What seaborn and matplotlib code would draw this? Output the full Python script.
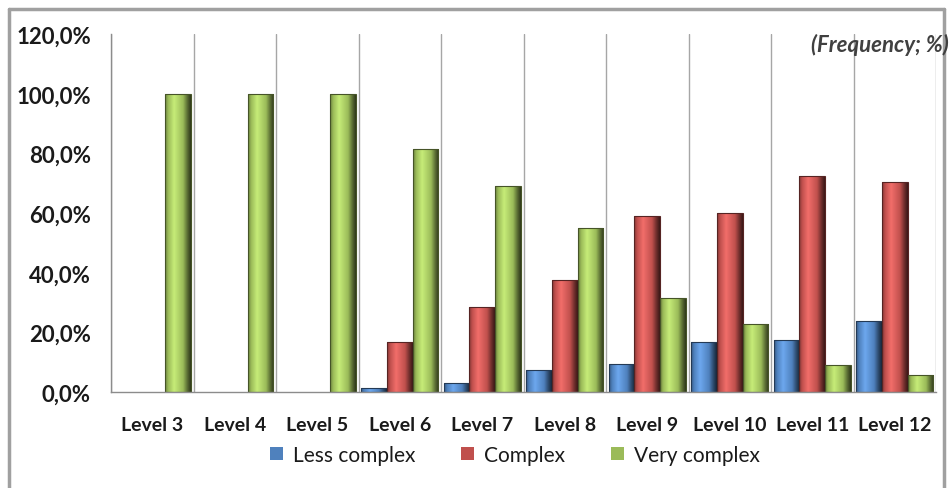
import numpy as np
import pandas as pd
import matplotlib
matplotlib.use("Agg")
import matplotlib.pyplot as plt
import seaborn as sns
from matplotlib.colors import LinearSegmentedColormap, to_rgb
from matplotlib.patches import Patch
from matplotlib.lines import Line2D

# ---------------- data ----------------
levels = ["Level 3", "Level 4", "Level 5", "Level 6", "Level 7",
          "Level 8", "Level 9", "Level 10", "Level 11", "Level 12"]
less_complex = [0.0, 0.0, 0.0, 1.5, 3.0, 7.5, 9.5, 17.0, 17.4, 24.0]
complex_vals = [0.0, 0.0, 0.0, 17.0, 28.5, 37.5, 59.0, 60.0, 72.4, 70.3]
very_complex = [100.0, 100.0, 100.0, 81.5, 69.0, 55.0, 31.5, 23.0, 9.3, 5.7]
series_names = ["Less complex", "Complex", "Very complex"]
y_ticks = [0, 20, 40, 60, 80, 100, 120]
y_tick_labels = ["0,0%", "20,0%", "40,0%", "60,0%", "80,0%", "100,0%", "120,0%"]
note_text = "(Frequency; %)"

colors = ["#4F81BD", "#C0504D", "#9BBB59"]

df = pd.DataFrame({
    "level": levels * 3,
    "value": less_complex + complex_vals + very_complex,
    "series": [series_names[0]] * len(levels) + [series_names[1]] * len(levels)
              + [series_names[2]] * len(levels),
})

sns.set_theme(style="white")
plt.rcParams["font.family"] = ["Lato", "DejaVu Sans"]

fig = plt.figure(figsize=(9.5, 4.89), dpi=100)
ax = fig.add_axes([111 / 950, 1 - 393.3 / 489, (936 - 111) / 950, (393.3 - 35) / 489])

sns.barplot(data=df, x="level", y="value", hue="series", order=levels,
            hue_order=series_names, palette=colors, width=0.93, gap=0,
            dodge=True, legend=False, ax=ax, saturation=1,
            edgecolor="none", linewidth=0)

# bevel-like shading on each bar (clipped gradient) plus dark outline
grad = np.linspace(0, 1, 80).reshape(1, -1)
for cont in ax.containers:
    for patch in cont.patches:
        h = patch.get_height()
        if not (h > 0):
            patch.set_visible(False)
            continue
        base = np.array(to_rgb(patch.get_facecolor()))
        light = np.clip(base * 1.18 + 0.06, 0, 1)
        cmap = LinearSegmentedColormap.from_list(
            "bev", [(0.0, base * 0.7), (0.12, base), (0.35, light),
                    (0.7, base), (0.86, base * 0.6), (1.0, base * 0.3)])
        x0 = patch.get_x(); w = patch.get_width()
        im = ax.imshow(grad, extent=[x0, x0 + w, 0, h], aspect="auto",
                       cmap=cmap, zorder=patch.get_zorder() + 0.1,
                       interpolation="bilinear")
        im.set_clip_path(patch)
        patch.set_edgecolor(tuple(base * 0.45))
        patch.set_linewidth(0.8)
        patch.set_zorder(patch.get_zorder() + 0.2)
        patch.set_facecolor("none")

ax.set_xlim(-0.5, len(levels) - 0.5)
ax.set_ylim(0, 120)
ax.set_aspect("auto")

# axes styling
for s in ["top", "right"]:
    ax.spines[s].set_visible(False)
for s in ["left", "bottom"]:
    ax.spines[s].set_color("#8C8C8C")
    ax.spines[s].set_linewidth(1.0)

ax.set_yticks(y_ticks)
ax.set_yticklabels(y_tick_labels)
ax.tick_params(axis="y", which="major", direction="out", length=4.5, width=1,
               color="#8C8C8C", pad=10, labelsize=16, labelcolor="#1A1A1A")
for t in ax.get_yticklabels():
    t.set_fontweight("bold")

ax.set_xticks(range(len(levels)))
ax.set_xticklabels(levels)
ax.tick_params(axis="x", which="major", length=0, pad=17, labelsize=14,
               labelcolor="#1A1A1A")
for t in ax.get_xticklabels():
    t.set_fontweight("bold")
ax.set_xticks(np.arange(-0.5, len(levels), 1.0), minor=True)
ax.tick_params(axis="x", which="minor", direction="out", length=4, width=1,
               color="#8C8C8C")
ax.xaxis.grid(True, which="minor", color="#A6A6A6", linewidth=1.0)
ax.xaxis.grid(False, which="major")
ax.yaxis.grid(False)
ax.set_axisbelow(True)
ax.set_xlabel("")
ax.set_ylabel("")

# note
fig.text(949 / 950, 1 - 45 / 489, note_text, ha="right", va="center",
         fontsize=16, fontstyle="italic", fontweight="bold", color="#404040")

# legend
handles = [Patch(facecolor=c, edgecolor="none") for c in colors]
leg = fig.legend(handles, series_names, loc="center", ncol=3,
                 bbox_to_anchor=(515 / 950, 1 - 456 / 489), frameon=False,
                 fontsize=15, handlelength=0.6, handleheight=0.6,
                 handletextpad=0.5, columnspacing=2.2)
for t in leg.get_texts():
    t.set_color("#1A1A1A")

# outer border (open at bottom)
bc = "#A0A0A0"
fig.add_artist(Line2D([9 / 950, 9 / 950], [0, 1 - 10 / 489], transform=fig.transFigure,
                      color=bc, linewidth=2.5))
fig.add_artist(Line2D([9 / 950, 944 / 950], [1 - 10 / 489, 1 - 10 / 489],
                      transform=fig.transFigure, color=bc, linewidth=2.5))
fig.add_artist(Line2D([944 / 950, 944 / 950], [0, 1 - 10 / 489], transform=fig.transFigure,
                      color=bc, linewidth=2.5))

fig.savefig("out.png", dpi=100)
